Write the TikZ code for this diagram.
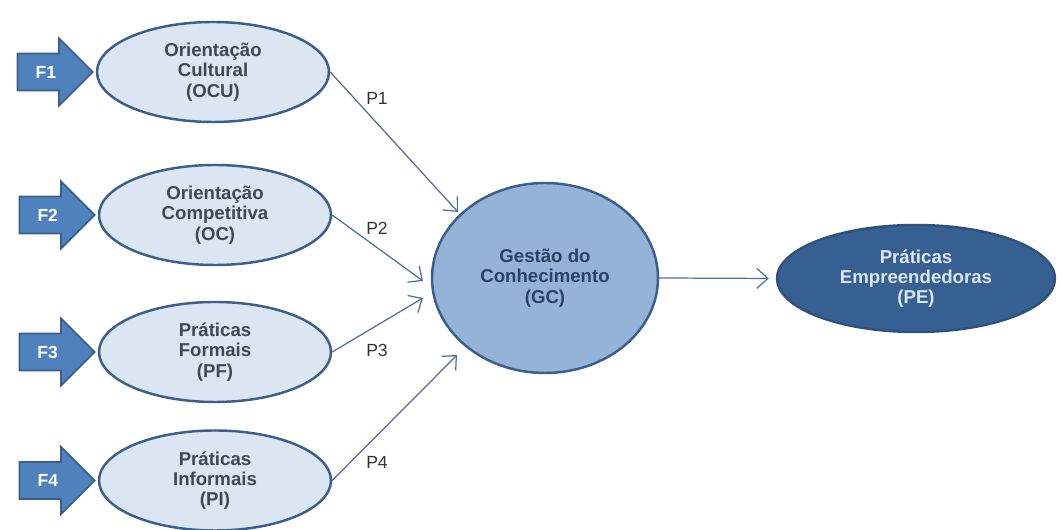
\documentclass[tikz,border=0pt]{standalone}
\usepackage{fontspec}
\setmainfont{Liberation Sans}
\usetikzlibrary{positioning,shapes.geometric,shapes.arrows,arrows.meta}

\definecolor{lightfill}{HTML}{DCE6F2}
\definecolor{midfill}{HTML}{95B3D7}
\definecolor{darkfill}{HTML}{376092}
\definecolor{rim}{HTML}{3A5F8C}
\definecolor{arrowfill}{HTML}{4F81BD}
\definecolor{linkcol}{HTML}{4A6FA0}
\definecolor{txtcol}{HTML}{3E4859}

\tikzset{every picture/.style={line width=0.75pt}}
\tikzset{
	construct/.style={ellipse, draw=rim, line width=1.4pt, fill=lightfill, text=txtcol,
		minimum width=4.64cm, minimum height=2cm, align=center, inner sep=1pt,
		font=\bfseries\fontsize{10.6}{11.5}\selectfont},
	factor/.style={single arrow, draw=rim, line width=1pt, fill=arrowfill, text=white,
		minimum height=1.5cm, minimum width=1.32cm, single arrow head extend=0.3cm,
		single arrow tip angle=90, inner xsep=2pt, inner ysep=0.23cm,
		font=\bfseries\fontsize{10}{11.3}\selectfont},
	link/.style={draw=linkcol, line width=0.7pt, -{Straight Barb[length=2.2mm,width=4mm]}},
	plabel/.style={text=black!80, font=\fontsize{10}{11.3}\selectfont}
}

\begin{document}
\begin{tikzpicture}
		\useasboundingbox (0,0) rectangle (21.26,10.6);
		\node[construct] (ocu) at (4.26,9.16) {Orientação\\Cultural\\(OCU)};
		\node[construct] (oc) at (4.30,6.30) {Orientação\\Competitiva\\(OC)};
		\node[construct] (pf) at (4.30,3.56) {Práticas\\Formais\\(PF)};
		\node[construct] (pi) at (4.30,0.99) {Práticas\\Informais\\(PI)};
		\node[factor, left=0.04cm of ocu] (f1) {F1};
		\node[factor, left=0.04cm of oc] (f2) {F2};
		\node[factor, left=0.04cm of pf] (f3) {F3};
		\node[factor, left=0.04cm of pi] (f4) {F4};
		\node[construct, fill=midfill, text=rim!70!black, minimum width=4.52cm, minimum height=3.8cm] (gc) at (10.90,5.04) {Gestão do\\Conhecimento\\(GC)};
		\node[construct, fill=darkfill, draw=darkfill!85!black, text=lightfill, minimum width=5.56cm, minimum height=2.14cm] (pe) at (18.32,5.03) {Práticas\\Empreendedoras\\(PE)};
		% free ends of the P links
		\coordinate (e1) at (9.16,6.36);
		\coordinate (e2) at (8.46,4.98);
		\coordinate (e3) at (8.46,4.64);
		\coordinate (e4) at (9.14,3.50);
		\draw[link] (ocu.east) -- (e1);
		\draw[link] (oc.east) -- (e2);
		\draw[link] (pf.east) -- (e3);
		\draw[link] (pi.east) -- (e4);
		\draw[link, shorten >=0.14cm] (gc.east) -- (pe.west);
		\node[plabel] (p1) at (7.54,8.64) {P1};
		\node[plabel] (p2) at (7.54,6.04) {P2};
		\node[plabel] (p3) at (7.54,3.60) {P3};
		\node[plabel] (p4) at (7.54,1.36) {P4};
	\end{tikzpicture}
\end{document}
